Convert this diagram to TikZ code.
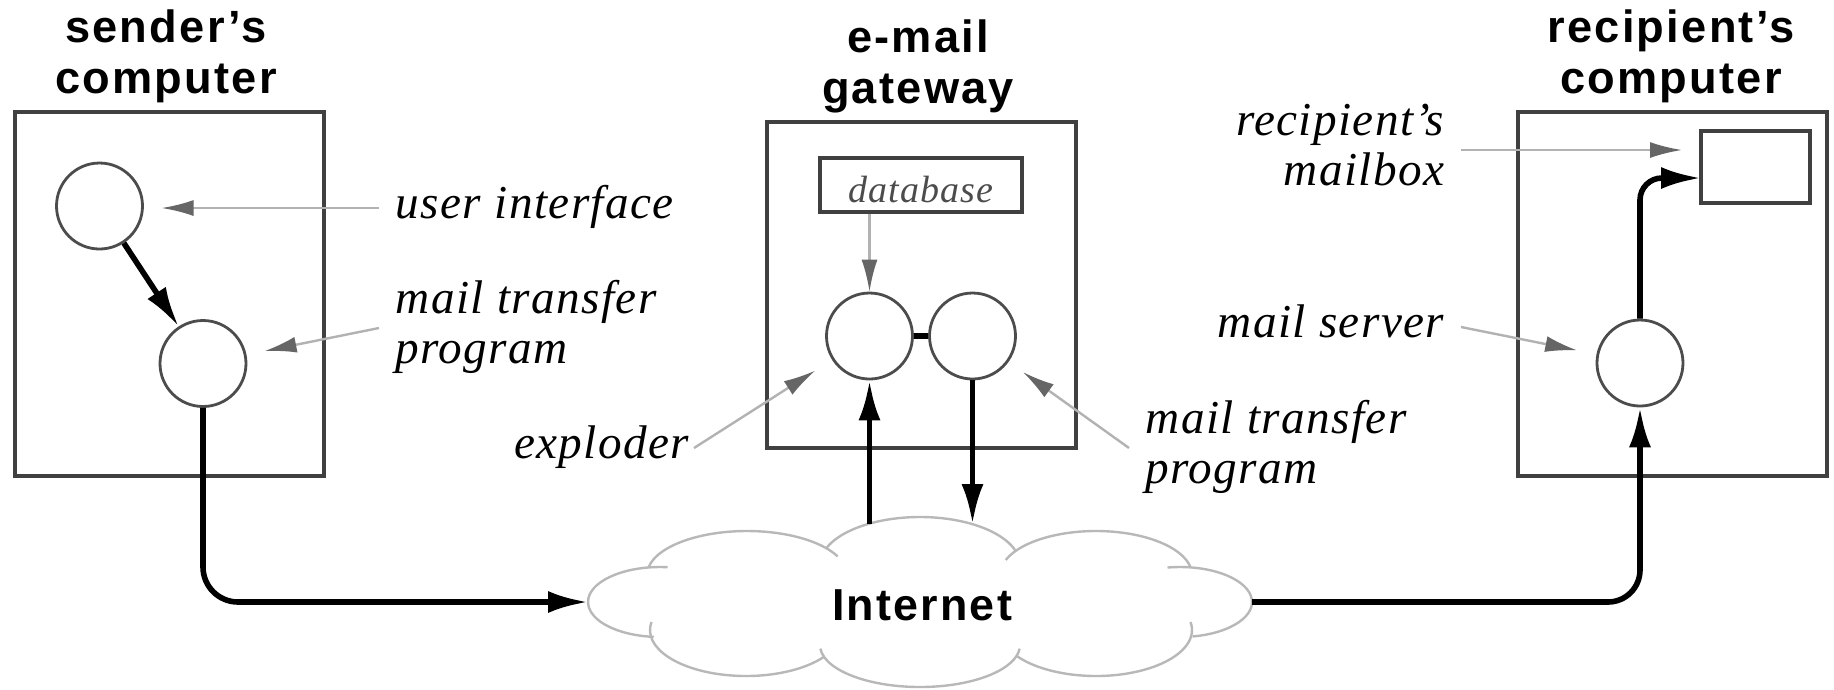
\documentclass[tikz,border=0pt]{standalone}
\usepackage{fontspec}
\setmainfont{Liberation Serif}
\newfontfamily\headfont[LetterSpace=5]{Liberation Sans}
\newfontfamily\netfont[LetterSpace=5]{Liberation Sans}
\newfontfamily\lblfont[LetterSpace=3]{Liberation Serif}
\usetikzlibrary{arrows.meta}
\begin{document}
\begin{tikzpicture}[x=0.25pt,y=0.25pt,
  boxst/.style={draw=black!75, line width=1pt, inner sep=0pt},
  procst/.style={circle, draw=black!70, line width=0.7pt, minimum size=21.5pt, inner sep=0pt},
  headst/.style={anchor=base, inner sep=0pt, font=\headfont\bfseries\fontsize{11.3}{12.75}\selectfont},
  lblst/.style={inner sep=4pt, font=\lblfont\itshape\fontsize{11.8}{12.5}\selectfont},
  flow/.style={line width=1.4pt, -{Latex[length=10pt,width=5.5pt]}},
  flowplain/.style={line width=1.4pt},
  pointer/.style={draw=black!30, line width=0.6pt, -{Latex[length=8pt,width=4pt,color=black!60,fill=black!60]}},
  cloudst/.style={draw=black!28, line width=0.6pt},
]
\path[use as bounding box] (0,0) rectangle (1834,-689);

% headings
\node[headst] (hs) at (166,-42) {\begin{tabular}[t]{@{}c@{}}sender’s\\computer\end{tabular}};
\node[headst] (hg) at (918,-52) {\begin{tabular}[t]{@{}c@{}}e-mail\\gateway\end{tabular}};
\node[headst] (hr) at (1671,-42) {\begin{tabular}[t]{@{}c@{}}recipient’s\\computer\end{tabular}};

% computer boxes
\node[boxst, minimum width=77.25pt, minimum height=91pt] (sbox) at (169.5,-294) {};
\node[boxst, minimum width=77.25pt, minimum height=81.5pt] (gbox) at (921.5,-285) {};
\node[boxst, minimum width=77.25pt, minimum height=91pt] (rbox) at (1672.5,-294) {};

% processes
\node[procst] (ui) at (99.5,-206) {};
\node[procst] (mtp) at (203,-363.5) {};
\node[procst] (gl) at (869.5,-336) {};
\node[procst] (gr) at (972.5,-336) {};
\node[procst] (rc) at (1640,-363) {};

% database and mailbox
\node[boxst, anchor=base, minimum width=50.5pt, text height=11pt, text depth=2.5pt,
      font=\lblfont\itshape\fontsize{9.5}{11}\selectfont, text=black!70] (db) at (921,-202) {database};
\node[boxst, minimum width=27.25pt, minimum height=18pt] (mbox) at (1755.5,-167) {};

% cloud
\draw[cloudst] (660,-602) ++(84:72 and 35) arc[start angle=84,end angle=265,x radius=72,y radius=35];
\draw[cloudst] (747,-575) ++(170:100 and 44) arc[start angle=170,end angle=25,x radius=100,y radius=44];
\draw[cloudst] (920,-565) ++(160:100 and 48) arc[start angle=160,end angle=17,x radius=100,y radius=48];
\draw[cloudst] (1096,-575) ++(160:96 and 44) arc[start angle=160,end angle=10,x radius=96,y radius=44];
\draw[cloudst] (1180,-602) ++(100:72 and 35) arc[start angle=100,end angle=-80,x radius=72,y radius=35];
\draw[cloudst] (1096,-630) ++(215:96 and 46) arc[start angle=215,end angle=370,x radius=96,y radius=46];
\draw[cloudst] (920,-645) ++(185:100 and 42) arc[start angle=185,end angle=355,x radius=100,y radius=42];
\draw[cloudst] (746,-630) ++(170:96 and 46) arc[start angle=170,end angle=325,x radius=96,y radius=46];
\node[font=\netfont\bfseries\fontsize{11.2}{13}\selectfont, anchor=base, inner sep=0pt] (net) at (922,-620) {Internet};

\coordinate (cloudW) at (588,-602);
\coordinate (cloudE) at (1252,-602);
\coordinate (ctA) at (869.5,-524);
\coordinate (ctB) at (972.5,-524);
\coordinate (mbin) at (1701,-178);

% message flow
\draw[flow] (ui) -- (mtp);
\draw[flow, rounded corners=8.75pt] (mtp.south) |- (cloudW);
\draw[flow] (ctA) -- (gl.south);
\draw[flow] (gr.south) -- (ctB);
\draw[flowplain] (gl.east) -- (gr.west);
\draw[flow, rounded corners=8pt] (cloudE) -| (rc.south);
\draw[flow, rounded corners=5.5pt] (rc.north) |- (mbin);
\draw[pointer] (gl.north |- db.south) -- (gl.north);

% labels
\node[lblst, anchor=base west] (uil) at (379,-218) {\begin{tabular}[t]{@{}l@{}}user interface\end{tabular}};
\node[lblst, anchor=base west] (mtpl) at (379,-313) {\begin{tabular}[t]{@{}l@{}}mail transfer\\program\end{tabular}};
\node[lblst, anchor=base east, inner sep=1pt] (expl) at (694,-458) {\begin{tabular}[t]{@{}l@{}}exploder\end{tabular}};
\node[lblst, anchor=base west] (mtpr) at (1129,-433) {\begin{tabular}[t]{@{}l@{}}mail transfer\\program\end{tabular}};
\node[lblst, anchor=base east] (recl) at (1461,-135) {\begin{tabular}[t]{@{}r@{}}recipient’s\\mailbox\end{tabular}};
\node[lblst, anchor=base east] (msl) at (1461,-337) {\begin{tabular}[t]{@{}r@{}}mail server\end{tabular}};

\draw[pointer, shorten >=4.4pt] (uil.west) -- (uil.west -| ui.east);
\draw[pointer, shorten >=4.6pt] (mtpl.west) -- (mtp);
\draw[pointer, shorten >=5pt] (expl.east) -- (gl);
\draw[pointer, shorten >=4.4pt] (mtpr.west) -- (gr);
\draw[pointer, shorten >=4.25pt] (recl.east) -- (recl.east -| mbox.west);
\draw[pointer, shorten >=4.9pt] (msl.east) -- (rc);
\end{tikzpicture}
\end{document}
